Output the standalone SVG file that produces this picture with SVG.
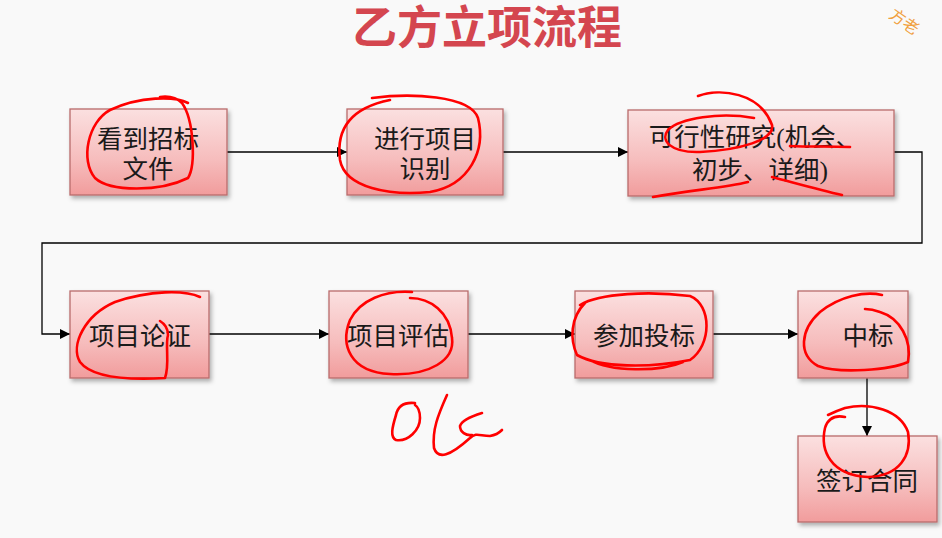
<svg xmlns="http://www.w3.org/2000/svg" width="942" height="538" viewBox="0 0 942 538">
<defs>
<linearGradient id="g" x1="0" y1="0" x2="0" y2="1">
<stop offset="0" stop-color="#fbe0e0"/>
<stop offset="0.6" stop-color="#f6bcbc"/>
<stop offset="1" stop-color="#f19c9c"/>
</linearGradient>
<filter id="sh" x="-10%" y="-10%" width="130%" height="130%">
<feDropShadow dx="2" dy="3" stdDeviation="2" flood-color="#000" flood-opacity="0.3"/>
</filter>
<marker id="ar" viewBox="0 0 10 10" refX="10" refY="5" markerWidth="10" markerHeight="10" markerUnits="userSpaceOnUse" orient="auto">
<path d="M0,0 L10,5 L0,10 Z" fill="#000"/>
</marker>
<style>
.box{fill:url(#g);stroke:#b96c6c;stroke-width:1.3;filter:url(#sh)}
.t{font-family:"Liberation Serif","Noto Sans CJK SC",serif;font-size:25.5px;fill:#1a1a1a;text-anchor:middle}
.c{fill:none;stroke:#000;stroke-width:1.3;marker-end:url(#ar)}
.s{fill:none;stroke:#f00;stroke-width:2.6;stroke-linecap:round;stroke-linejoin:round}
</style>
</defs>
<rect width="942" height="538" fill="#f9f9f9"/>
<text x="487" y="44" font-family="'Liberation Sans','Noto Sans CJK SC',sans-serif" font-weight="bold" font-size="45" fill="#d4464f" text-anchor="middle">乙方立项流程</text>
<text x="888" y="17" font-family="'Liberation Sans','Noto Sans CJK SC',sans-serif" font-size="16" fill="#f0a040" transform="rotate(35 888 17)">方老</text>

<g id="connectors">
<line class="c" x1="227" y1="152" x2="347" y2="152"/>
<line class="c" x1="503" y1="152" x2="628" y2="152"/>
<polyline class="c" points="894,152 922,152 922,243 42,243 42,334 70,334"/>
<line class="c" x1="209" y1="334" x2="329" y2="334"/>
<line class="c" x1="468" y1="334" x2="575" y2="334"/>
<line class="c" x1="713" y1="334" x2="798" y2="334"/>
<line class="c" x1="867" y1="378" x2="867" y2="436"/>
</g>

<g id="n1"><rect class="box" x="70" y="109" width="157" height="86"/>
<text class="t" x="148" y="148">看到招标</text><text class="t" x="148" y="178">文件</text></g>
<g id="n2"><rect class="box" x="347" y="109" width="156" height="86"/>
<text class="t" x="425" y="148">进行项目</text><text class="t" x="425" y="178">识别</text></g>
<g id="n3"><rect class="box" x="628" y="110" width="266" height="86"/>
<text class="t" x="755" y="146">可行性研究(机会、</text><text class="t" x="760" y="179">初步、详细)</text></g>
<g id="n4"><rect class="box" x="70" y="291" width="139" height="87"/>
<text class="t" x="140" y="345">项目论证</text></g>
<g id="n5"><rect class="box" x="329" y="291" width="139" height="87"/>
<text class="t" x="398" y="345">项目评估</text></g>
<g id="n6"><rect class="box" x="575" y="291" width="138" height="87"/>
<text class="t" x="644" y="345">参加投标</text></g>
<g id="n7"><rect class="box" x="798" y="291" width="110" height="87"/>
<text class="t" x="868" y="345">中标</text></g>
<g id="n8"><rect class="box" x="798" y="436" width="139" height="86"/>
<text class="t" x="867" y="490">签订合同</text></g>

<g id="annotations">
<path class="s" d="M188,103 C175,96 140,96 110,110 C88,122 80,160 95,178 C110,192 160,192 188,178 C196,165 194,120 182,103 C176,97 168,96 160,97"/>
<path class="s" d="M372,98 C410,93 470,95 478,118 C486,150 470,185 430,192 C390,196 345,188 340,160 C336,130 350,108 390,100"/>
<path class="s" d="M698,96 C720,88 760,92 772,125 C775,140 740,150 700,152 C670,153 660,140 668,130 C680,118 720,112 754,118"/>
<path class="s" d="M790,146 C810,147 830,146 850,147"/>
<path class="s" d="M653,197 C690,190 725,188 748,182"/>
<path class="s" d="M772,177 C795,183 820,190 842,195"/>
<path class="s" d="M200,297 C185,290 150,290 115,302 C85,315 70,345 80,362 C92,378 130,380 165,378 C170,365 165,345 168,335 C168,328 165,324 160,321"/>
<path class="s" d="M412,292 C385,290 360,300 350,320 C340,345 350,372 390,374 C430,376 455,360 452,338 C450,312 430,298 410,298"/>
<path class="s" d="M580,305 C600,293 650,291 690,296 C712,305 712,345 690,360 C650,368 600,368 577,355 C570,340 570,318 585,303 M590,360 C610,372 660,372 683,362"/>
<path class="s" d="M882,295 C865,291 840,296 820,312 C800,330 798,355 818,366 C840,374 890,370 908,362 C912,340 900,318 880,312 C872,309 868,309 865,309"/>
<path class="s" d="M845,417 C835,415 828,418 825,428 C820,450 830,475 868,477 C900,476 912,455 908,432 C900,410 870,402 845,408 C836,411 832,413 828,415"/>
<path class="s" d="M415,403 C405,402 398,405 396,415 C392,428 390,437 396,440 C408,442 420,430 420,418 C420,410 418,407 415,405"/>
<path class="s" d="M447,395 C438,415 432,430 434,448 C438,460 450,456 470,438 C476,432 480,436 490,436 C496,435 500,432 502,430 M482,413 C472,416 462,420 460,426 C460,432 466,436 472,435"/>
</g>
</svg>
